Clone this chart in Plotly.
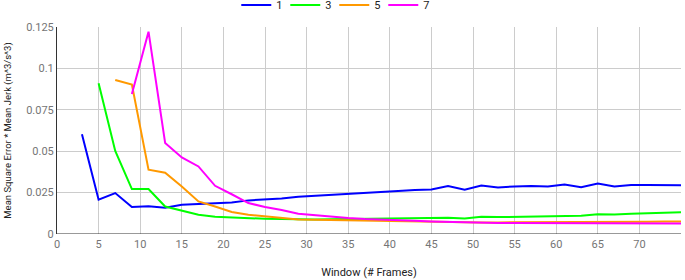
import plotly.graph_objects as go

# Data
x1 = [3,5,7,9,11,13,15,17,19,21,23,25,27,29,31,33,35,37,39,41,43,45,47,49,51,53,55,57,59,61,63,65,67,69,71,73,75]
y1 = [0.0602,0.0207,0.0247,0.0163,0.0167,0.0159,0.0177,0.0180,0.0185,0.0190,0.0203,0.0207,0.0215,0.0225,0.0231,0.0240,0.0245,0.0252,0.0257,0.0260,0.0265,0.0269,0.0290,0.0267,0.0293,0.0281,0.0287,0.0290,0.0287,0.0299,0.0283,0.0305,0.0287,0.0296,0.0296,0.0293,0.0294]

x3 = [5,7,9,11,13,15,17,19,21,23,25,27,29,31,33,35,37,39,41,43,45,47,49,51,53,55,57,59,61,63,65,67,69,71,73,75]
y3 = [0.0911,0.0502,0.0271,0.0271,0.0166,0.0140,0.0116,0.0104,0.0099,0.0096,0.0092,0.0090,0.0088,0.0088,0.0089,0.0090,0.0091,0.0092,0.0092,0.0093,0.0094,0.0098,0.0094,0.0104,0.0102,0.0104,0.0106,0.0108,0.0110,0.0110,0.0120,0.0118,0.0122,0.0124,0.0126,0.0132]

x5 = [7,9,11,13,15,17,19,21,23,25,27,29,31,33,35,37,39,41,43,45,47,49,51,53,55,57,59,61,63,65,67,69,71,73,75]
y5 = [0.0930,0.0902,0.0388,0.0370,0.0287,0.0197,0.0166,0.0133,0.0116,0.0106,0.0097,0.0088,0.0086,0.0084,0.0083,0.0080,0.0078,0.0076,0.0074,0.0072,0.0071,0.0070,0.0070,0.0070,0.0070,0.0070,0.0070,0.0071,0.0072,0.0073,0.0073,0.0074,0.0074,0.0075,0.0075]

x7 = [9,11,13,15,17,19,21,23,25,27,29,31,33,35,37,39,41,43,45,47,49,51,53,55,57,59,61,63,65,67,69,71,73,75]
y7 = [0.0846,0.1222,0.0549,0.0462,0.0408,0.0291,0.0240,0.0187,0.0163,0.0145,0.0122,0.0112,0.0102,0.0096,0.0090,0.0088,0.0086,0.0080,0.0076,0.0073,0.0070,0.0070,0.0066,0.0066,0.0066,0.0066,0.0065,0.0065,0.0065,0.0065,0.0064,0.0064,0.0064,0.0064]

series_names = ["1", "3", "5", "7"]
colors = ["#0000ff", "#00ff00", "#ff9900", "#ff00ff"]

y_tickvals = [0, 0.025, 0.05, 0.075, 0.1, 0.125]
y_ticktext = ["0", "0.025", "0.05", "0.075", "0.1", "0.125"]
x_tickvals = list(range(0, 76, 5))

fig = go.Figure()
for xs, ys, name, c in zip([x1, x3, x5, x7], [y1, y3, y5, y7], series_names, colors):
    fig.add_trace(go.Scatter(x=xs, y=ys, name=name, mode="lines",
                             line=dict(color=c, width=2)))

fig.update_layout(
    width=685, height=280,
    margin=dict(l=57, r=4, t=27, b=46, autoexpand=False),
    paper_bgcolor="white", plot_bgcolor="white",
    font=dict(family="Roboto, Arial, sans-serif", size=11, color="#757575"),
    legend=dict(orientation="h", x=0.488, xref="container", xanchor="center",
                y=0.982, yref="container", yanchor="middle",
                font=dict(size=11, color="#222222"),
                itemwidth=30, entrywidth=4, tracegroupgap=0, traceorder="normal"),
    xaxis=dict(range=[0, 75], tickvals=x_tickvals, showgrid=True,
               gridcolor="#cccccc", gridwidth=1, zeroline=False, automargin=False,
               showline=False, ticks="", ticklabelstandoff=2,
               tickfont=dict(size=11, color="#757575"),
               title=dict(text="Window (# Frames)", font=dict(size=11, color="#222222"),
                          standoff=18)),
    yaxis=dict(range=[0, 0.125], tickvals=y_tickvals, ticktext=y_ticktext,
               showgrid=True, gridcolor="#cccccc", gridwidth=1, automargin=False,
               zeroline=False, showline=True, linecolor="#333333", linewidth=1,
               ticks="", tickfont=dict(size=11, color="#757575"),
               title=dict(text="Mean Square Error * Mean Jerk (m^3/s^3)",
                          font=dict(size=9.5, color="#222222"), standoff=12)),
)
fig.add_shape(type="line", xref="paper", yref="y", x0=0, x1=1, y0=0, y1=0,
              line=dict(color="#333333", width=1))

fig.write_html("out.html", config={"displayModeBar": False},
               post_script="document.body.style.margin='0';document.body.style.padding='0';")
